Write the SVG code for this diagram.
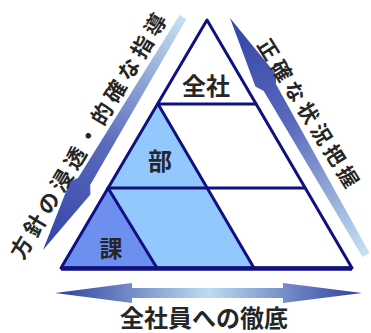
<svg xmlns="http://www.w3.org/2000/svg" width="371" height="333" viewBox="0 0 371 333">
  <style>
    .edge { fill: none; stroke: #10107f; stroke-width: 3; stroke-linejoin: round; stroke-linecap: round; }
    .lbl { font-family: "Noto Sans CJK JP", "Noto Sans CJK SC", sans-serif; font-weight: 700; fill: #262626; }
  </style>
  <defs>
    <linearGradient id="gLeft" gradientUnits="userSpaceOnUse" x1="43" y1="250" x2="183" y2="17">
      <stop offset="0" stop-color="#3343a8"/>
      <stop offset="0.45" stop-color="#5a6abc"/>
      <stop offset="1" stop-color="#c6e2f2"/>
    </linearGradient>
    <linearGradient id="gRight" gradientUnits="userSpaceOnUse" x1="230" y1="18" x2="366" y2="255">
      <stop offset="0" stop-color="#3343a8"/>
      <stop offset="0.45" stop-color="#5a6abc"/>
      <stop offset="1" stop-color="#c6e2f2"/>
    </linearGradient>
    <linearGradient id="gBottom" gradientUnits="userSpaceOnUse" x1="55" y1="0" x2="362" y2="0">
      <stop offset="0" stop-color="#2e3e9e"/>
      <stop offset="0.5" stop-color="#bcdcf2"/>
      <stop offset="1" stop-color="#2e3e9e"/>
    </linearGradient>
  </defs>

  <g id="pyramid">
    <polygon points="207,20 61,268 352,268" fill="#ffffff"/>
    <polygon points="158,104 61,268 254,268" fill="#93c8ff"/>
    <polygon points="108,188 61,268 157,268" fill="#6d90f0"/>
  </g>

  <g id="tier-zensha">
    <line class="edge" x1="158" y1="104" x2="256" y2="104" stroke="#2a2a90"/>
    <text class="lbl" x="206" y="95" font-size="24" text-anchor="middle">全社</text>
  </g>
  <g id="tier-bu">
    <line class="edge" x1="158" y1="104" x2="254" y2="268"/>
    <line class="edge" x1="108" y1="188" x2="305" y2="188"/>
    <text class="lbl" x="160" y="170" font-size="24" text-anchor="middle">部</text>
  </g>
  <g id="tier-ka">
    <line class="edge" x1="108" y1="188" x2="157" y2="268"/>
    <text class="lbl" x="111" y="257" font-size="23" text-anchor="middle">課</text>
  </g>
  <g id="outline">
    <polygon class="edge" points="207,20 61,268 352,268"/>
    <line x1="61" y1="268.5" x2="352" y2="268.5" stroke="#10107f" stroke-width="4.5"/>
  </g>

  <g id="connectors">
    <polygon fill="url(#gLeft)" points="43,250 90.4,194.5 90.2,185 186.4,19.1 179.6,14.9 78.2,177.8 69.8,182.1"/>
    <polygon fill="url(#gRight)" points="230,18 276.2,74.4 275.9,83.9 369.5,253 362.5,257 263.7,90.9 255.4,86.4"/>
    <polygon fill="url(#gBottom)" points="55,293 132,283 132,288 283,288 283,283 362,293 283,303 283,298 132,298 132,303"/>
  </g>

  <g id="labels">
    <text class="lbl" font-size="21.5" letter-spacing="4.5" text-anchor="middle" transform="translate(88.5,136) rotate(-59)" x="2.25" y="8">方針の浸透・的確な指導</text>
    <text class="lbl" font-size="20.5" letter-spacing="4.5" text-anchor="middle" transform="translate(308,113) rotate(58)" x="2.25" y="7.5">正確な状況把握</text>
    <text class="lbl" font-size="24" text-anchor="middle" x="204" y="326.5">全社員への徹底</text>
  </g>
</svg>
